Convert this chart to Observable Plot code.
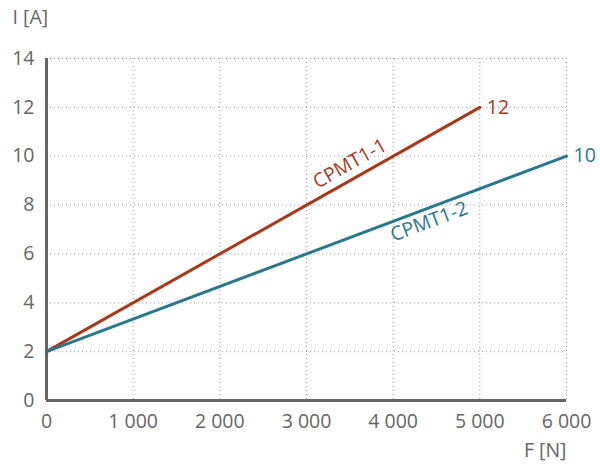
<!DOCTYPE html>
<html>
<head>
<meta charset="utf-8">
<script src="https://cdn.jsdelivr.net/npm/d3@7"></script>
<script src="https://cdn.jsdelivr.net/npm/@observablehq/plot@0.6"></script>
<style>
  html, body { margin: 0; padding: 0; background: #fff; }
  #chart svg { display: block; }
</style>
</head>
<body>
<div id="chart"></div>
<script>
const seriesNames = ["CPMT1-1", "CPMT1-2"];
const forceN = [[0, 5000], [0, 6000]];
const currentA = [[2, 12], [2, 10]];
const seriesColors = ["#a8381c", "#2a788d"];
const labelAtX = [3500, 4450];
const xTicks = [0, 1000, 2000, 3000, 4000, 5000, 6000];
const yTicks = [0, 2, 4, 6, 8, 10, 12, 14];
const xLabel = "F [N]";
const yLabel = "I [A]";

const lines = [];
seriesNames.forEach((s, i) => forceN[i].forEach((f, j) => lines.push({series: s, F: f, I: currentA[i][j]})));
const ends = seriesNames.map((s, i) => ({series: s, F: forceN[i][1], I: currentA[i][1]}));
const interp = (i, x) => currentA[i][0] + (currentA[i][1] - currentA[i][0]) * (x - forceN[i][0]) / (forceN[i][1] - forceN[i][0]);
const inLabels = seriesNames.map((s, i) => ({series: s, F: labelAtX[i], I: interp(i, labelAtX[i])}));

const W = 600, H = 472;
const mL = 46, mR = 34, mT = 58, mB = 72;
const slopeAngle = (i) => {
  const pxX = (W - mL - mR) / 6000, pxY = (H - mT - mB) / 14;
  const dy = (currentA[i][1] - currentA[i][0]) * pxY, dx = (forceN[i][1] - forceN[i][0]) * pxX;
  return -Math.atan2(dy, dx) * 180 / Math.PI;
};
const fmt = d => d3.format(",")(d).replace(/,/g, " ");
const color = {domain: seriesNames, range: seriesColors};
const FS = 19.5;

const plot = Plot.plot({
  width: W, height: H,
  marginLeft: mL, marginRight: mR, marginTop: mT, marginBottom: mB,
  style: {fontFamily: "'Open Sans', sans-serif", fontSize: FS + "px", color: "#666", background: "#fff"},
  x: {domain: [0, 6000], ticks: xTicks, tickFormat: fmt, label: null, tickSize: 0, tickPadding: 14},
  y: {domain: [0, 14], ticks: yTicks, label: null, tickSize: 0, tickPadding: 12},
  color,
  marks: [
    Plot.gridX(xTicks.slice(1), {stroke: "#999", strokeOpacity: 1, strokeWidth: 1, strokeDasharray: "1,3"}),
    Plot.gridY(yTicks.slice(1), {stroke: "#999", strokeOpacity: 1, strokeWidth: 1, strokeDasharray: "1,3"}),
    Plot.ruleX([0], {stroke: "#666", strokeWidth: 3}),
    Plot.ruleY([0], {stroke: "#666", strokeWidth: 3}),
    Plot.line(lines, {x: "F", y: "I", z: "series", stroke: "series", strokeWidth: 3}),
    Plot.text(ends, {x: "F", y: "I", text: d => String(d.I), fill: "series", textAnchor: "start", dx: 7, fontSize: FS}),
    Plot.text(inLabels.slice(0, 1), {x: "F", y: "I", text: "series", fill: "series", rotate: slopeAngle(0), dx: 0, dy: -17, fontSize: FS}),
    Plot.text(inLabels.slice(1, 2), {x: "F", y: "I", text: "series", fill: "series", rotate: slopeAngle(1), dx: -3, dy: 15, fontSize: FS}),
    Plot.text([yLabel], {frameAnchor: "top-left", text: d => d, dx: -34, dy: -48, textAnchor: "start", fill: "#666", fontSize: FS}),
    Plot.text([xLabel], {frameAnchor: "bottom-right", text: d => d, dx: 0, dy: 56, textAnchor: "end", fill: "#666", fontSize: FS})
  ]
});
document.getElementById("chart").appendChild(plot);
</script>
</body>
</html>
